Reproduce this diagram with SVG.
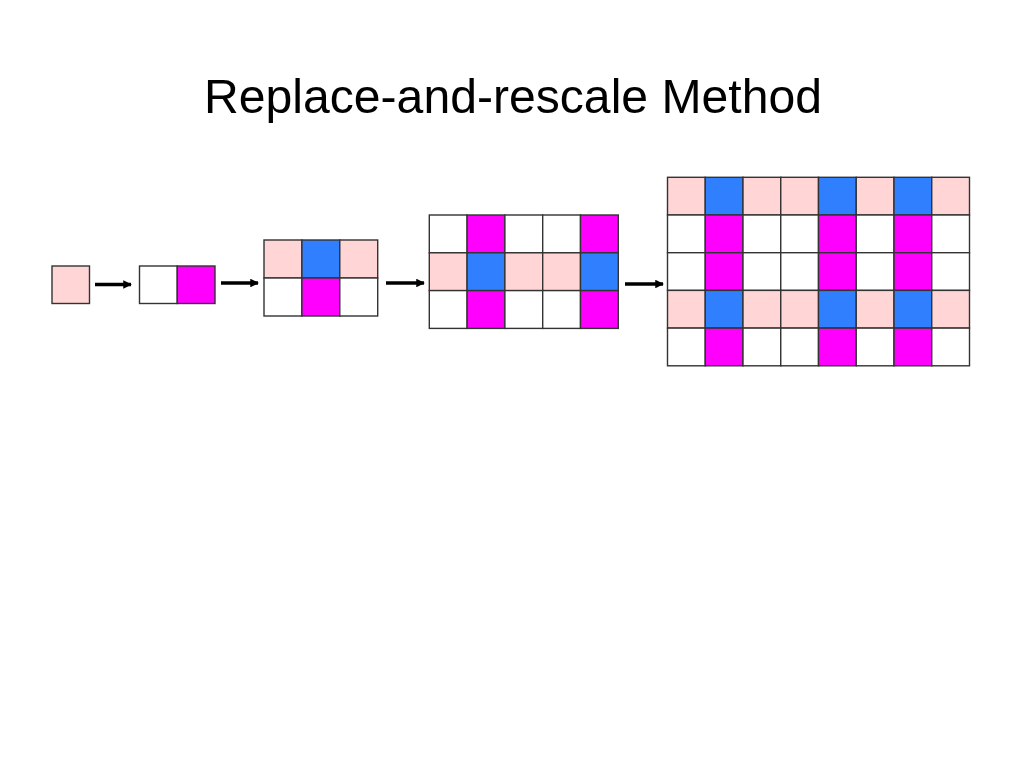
<svg xmlns="http://www.w3.org/2000/svg" width="1024" height="768" viewBox="0 0 1024 768">
<style>
rect{stroke:#333;stroke-width:1.4}
.p{fill:#FFD5D5}.b{fill:#2F7FFF}.m{fill:#FF00FF}.w{fill:#FFFFFF}
.title{font-family:"Liberation Sans",Arial,sans-serif;font-size:48.5px;fill:#000}
.arr{stroke:#000;stroke-width:3.3;fill:none;marker-end:url(#ah)}
</style>
<defs>
<marker id="ah" viewBox="0 0 10 10" refX="9" refY="5" markerWidth="3" markerHeight="2.6" markerUnits="strokeWidth" orient="auto">
<path d="M0,0 L10,5 L0,10 z" fill="#000"/>
</marker>
</defs>
<rect x="0" y="0" width="1024" height="768" fill="#fff" style="stroke:none"/>
<text class="title" x="513" y="113" text-anchor="middle" textLength="618" lengthAdjust="spacingAndGlyphs">Replace-and-rescale Method</text>
<g id="grid1">
<rect class="p" x="52" y="266" width="37.5" height="37.5"/>
</g>
<g id="grid2">
<rect class="w" x="139.5" y="266" width="37.75" height="37.5"/>
<rect class="m" x="177.25" y="266" width="37.75" height="37.5"/>
</g>
<g id="grid3">
<rect class="p" x="264" y="240" width="37.9" height="38"/>
<rect class="b" x="301.9" y="240" width="37.9" height="38"/>
<rect class="p" x="339.8" y="240" width="37.9" height="38"/>
<rect class="w" x="264" y="278" width="37.9" height="38"/>
<rect class="m" x="301.9" y="278" width="37.9" height="38"/>
<rect class="w" x="339.8" y="278" width="37.9" height="38"/>
</g>
<g id="grid4">
<rect class="w" x="429.3" y="215" width="37.8" height="37.8"/>
<rect class="m" x="467.1" y="215" width="37.8" height="37.8"/>
<rect class="w" x="504.9" y="215" width="37.8" height="37.8"/>
<rect class="w" x="542.7" y="215" width="37.8" height="37.8"/>
<rect class="m" x="580.5" y="215" width="37.8" height="37.8"/>
<rect class="p" x="429.3" y="252.8" width="37.8" height="37.8"/>
<rect class="b" x="467.1" y="252.8" width="37.8" height="37.8"/>
<rect class="p" x="504.9" y="252.8" width="37.8" height="37.8"/>
<rect class="p" x="542.7" y="252.8" width="37.8" height="37.8"/>
<rect class="b" x="580.5" y="252.8" width="37.8" height="37.8"/>
<rect class="w" x="429.3" y="290.6" width="37.8" height="37.8"/>
<rect class="m" x="467.1" y="290.6" width="37.8" height="37.8"/>
<rect class="w" x="504.9" y="290.6" width="37.8" height="37.8"/>
<rect class="w" x="542.7" y="290.6" width="37.8" height="37.8"/>
<rect class="m" x="580.5" y="290.6" width="37.8" height="37.8"/>
</g>
<g id="grid5">
<rect class="p" x="667.5" y="177.3" width="37.75" height="37.7"/>
<rect class="b" x="705.25" y="177.3" width="37.75" height="37.7"/>
<rect class="p" x="743" y="177.3" width="37.75" height="37.7"/>
<rect class="p" x="780.75" y="177.3" width="37.75" height="37.7"/>
<rect class="b" x="818.5" y="177.3" width="37.75" height="37.7"/>
<rect class="p" x="856.25" y="177.3" width="37.75" height="37.7"/>
<rect class="b" x="894" y="177.3" width="37.75" height="37.7"/>
<rect class="p" x="931.75" y="177.3" width="37.75" height="37.7"/>
<rect class="w" x="667.5" y="215" width="37.75" height="37.7"/>
<rect class="m" x="705.25" y="215" width="37.75" height="37.7"/>
<rect class="w" x="743" y="215" width="37.75" height="37.7"/>
<rect class="w" x="780.75" y="215" width="37.75" height="37.7"/>
<rect class="m" x="818.5" y="215" width="37.75" height="37.7"/>
<rect class="w" x="856.25" y="215" width="37.75" height="37.7"/>
<rect class="m" x="894" y="215" width="37.75" height="37.7"/>
<rect class="w" x="931.75" y="215" width="37.75" height="37.7"/>
<rect class="w" x="667.5" y="252.7" width="37.75" height="37.7"/>
<rect class="m" x="705.25" y="252.7" width="37.75" height="37.7"/>
<rect class="w" x="743" y="252.7" width="37.75" height="37.7"/>
<rect class="w" x="780.75" y="252.7" width="37.75" height="37.7"/>
<rect class="m" x="818.5" y="252.7" width="37.75" height="37.7"/>
<rect class="w" x="856.25" y="252.7" width="37.75" height="37.7"/>
<rect class="m" x="894" y="252.7" width="37.75" height="37.7"/>
<rect class="w" x="931.75" y="252.7" width="37.75" height="37.7"/>
<rect class="p" x="667.5" y="290.4" width="37.75" height="37.7"/>
<rect class="b" x="705.25" y="290.4" width="37.75" height="37.7"/>
<rect class="p" x="743" y="290.4" width="37.75" height="37.7"/>
<rect class="p" x="780.75" y="290.4" width="37.75" height="37.7"/>
<rect class="b" x="818.5" y="290.4" width="37.75" height="37.7"/>
<rect class="p" x="856.25" y="290.4" width="37.75" height="37.7"/>
<rect class="b" x="894" y="290.4" width="37.75" height="37.7"/>
<rect class="p" x="931.75" y="290.4" width="37.75" height="37.7"/>
<rect class="w" x="667.5" y="328.1" width="37.75" height="37.7"/>
<rect class="m" x="705.25" y="328.1" width="37.75" height="37.7"/>
<rect class="w" x="743" y="328.1" width="37.75" height="37.7"/>
<rect class="w" x="780.75" y="328.1" width="37.75" height="37.7"/>
<rect class="m" x="818.5" y="328.1" width="37.75" height="37.7"/>
<rect class="w" x="856.25" y="328.1" width="37.75" height="37.7"/>
<rect class="m" x="894" y="328.1" width="37.75" height="37.7"/>
<rect class="w" x="931.75" y="328.1" width="37.75" height="37.7"/>
</g>
<g id="connectors">
<line class="arr" x1="95" y1="284.5" x2="131" y2="284.5"/>
<line class="arr" x1="221" y1="283" x2="258" y2="283"/>
<line class="arr" x1="386" y1="283" x2="424" y2="283"/>
<line class="arr" x1="625" y1="284" x2="663" y2="284"/>
</g>
</svg>
